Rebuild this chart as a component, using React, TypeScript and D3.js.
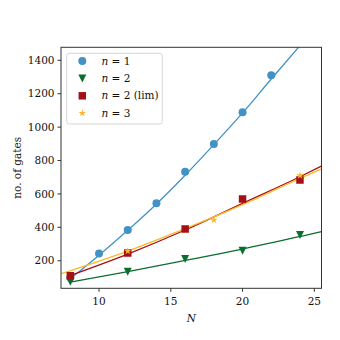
import React from "react";
import * as d3 from "d3";

// measured points
const n1N = [8, 10, 12, 14, 16, 18, 20, 22];
const n1Gates = [100, 244, 384, 544, 733, 899, 1089, 1310];
const n2N = [8, 12, 16, 20, 24];
const n2Gates = [74, 134, 210, 260, 354];
const n2limN = [8, 12, 16, 20, 24];
const n2limGates = [110, 246, 390, 569, 683];
const n3N = [12, 18, 24];
const n3Gates = [258, 444, 710];

// fitted curves
const fit1N = [8, 10, 12, 14, 16, 18, 20, 22, 24];
const fit1 = [92, 233, 382, 540, 712, 895, 1085, 1288, 1488];
const fit2N = [8, 12, 16, 20, 24, 25.5];
const fit2 = [72, 135, 202, 270, 345, 374];
const fit2limN = [8, 12, 16, 20, 24, 25.5];
const fit2lim = [112, 240, 384, 544, 703, 767];
const fit3N = [7.35, 12, 16, 20, 24, 25.5];
const fit3 = [122, 258, 392, 536, 693, 750];

const xTicks = [10, 15, 20, 25];
const yTicks = [200, 400, 600, 800, 1000, 1200, 1400];

const BLUE = "#4292c6";
const GREEN = "#0b6e2e";
const RED = "#a50f15";
const YELLOW = "#fbb829";
const FONT = "DejaVu Serif";

const left = 61, right = 321.5, top = 47.3, bottom = 288.3;

const x = d3.scaleLinear().domain([7.35, 25.5]).range([left, right]);
const y = d3.scaleLinear().domain([35, 1478]).range([bottom, top]);

const lineGen = d3
  .line<[number, number]>()
  .x((d) => x(d[0]))
  .y((d) => y(d[1]))
  .curve(d3.curveMonotoneX);

const zip = (a: number[], b: number[]) => a.map((v, i) => [v, b[i]] as [number, number]);

const circlePath = d3.symbol(d3.symbolCircle, Math.PI * 16)()!;
const squarePath = d3.symbol(d3.symbolSquare, 56)()!;
const starPath = d3.symbol(d3.symbolStar, 17)()!;
const triPath = "M0,4L-4,-4L4,-4Z";

const series = [
  { label: "1", extra: "", n: n1N, v: n1Gates, fn: fit1N, fv: fit1, color: BLUE, marker: circlePath },
  { label: "2", extra: "", n: n2N, v: n2Gates, fn: fit2N, fv: fit2, color: GREEN, marker: triPath },
  { label: "2", extra: " (lim)", n: n2limN, v: n2limGates, fn: fit2limN, fv: fit2lim, color: RED, marker: squarePath },
  { label: "3", extra: "", n: n3N, v: n3Gates, fn: fit3N, fv: fit3, color: YELLOW, marker: starPath },
];

export default function App() {
  return (
    <svg
      width={340}
      height={340}
      style={{ position: "absolute", left: 0, top: 0, background: "#fff" }}
      fontFamily={FONT}
    >
      <defs>
        <clipPath id="plot">
          <rect x={left} y={top} width={right - left} height={bottom - top} />
        </clipPath>
      </defs>

      <g clipPath="url(#plot)">
        {series.map((s, i) => (
          <g key={i}>
            <path d={lineGen(zip(s.fn, s.fv)) || ""} fill="none" stroke={s.color} strokeWidth={1.3} />
          </g>
        ))}
        {series.map((s, i) => (
          <g key={"m" + i}>
            {s.n.map((n, j) => (
              <path key={j} d={s.marker} transform={`translate(${x(n)},${y(s.v[j])})`} fill={s.color} />
            ))}
          </g>
        ))}
      </g>

      {/* spines */}
      <rect x={left} y={top} width={right - left} height={bottom - top} fill="none" stroke="#333" strokeWidth={1} />

      {/* x axis */}
      {xTicks.map((t) => (
        <g key={t} transform={`translate(${x(t)},${bottom})`}>
          <line y2={3.5} stroke="#333" />
          <text y={16.5} textAnchor="middle" fontSize={10.5} fill="#111">
            {t}
          </text>
        </g>
      ))}
      <text x={(left + right) / 2} y={322} textAnchor="middle" fontSize={10.5} fontStyle="italic" fill="#111">
        N
      </text>

      {/* y axis */}
      {yTicks.map((t) => (
        <g key={t} transform={`translate(${left},${y(t)})`}>
          <line x2={-3.5} stroke="#333" />
          <text x={-6.5} dy="0.35em" textAnchor="end" fontSize={10.5} fill="#111">
            {t}
          </text>
        </g>
      ))}
      <text
        transform={`translate(21,${(top + bottom) / 2}) rotate(-90)`}
        textAnchor="middle"
        fontSize={10.5}
        fill="#111"
      >
        no. of gates
      </text>

      {/* legend */}
      <rect x={66.7} y={53.3} width={95.6} height={70.7} rx={2.5} fill="#fff" fillOpacity={0.8} stroke="#ccc" strokeWidth={0.8} />
      {series.map((s, i) => {
        const ly = 61 + i * 17.4;
        return (
          <g key={"l" + i}>
            <path d={s.marker} transform={`translate(82.3,${ly})`} fill={s.color} />
            <text x={101.5} y={ly} dy="0.35em" fontSize={10.5} fill="#111">
              <tspan fontStyle="italic">n</tspan>
              {" = " + s.label + s.extra}
            </text>
          </g>
        );
      })}
    </svg>
  );
}
